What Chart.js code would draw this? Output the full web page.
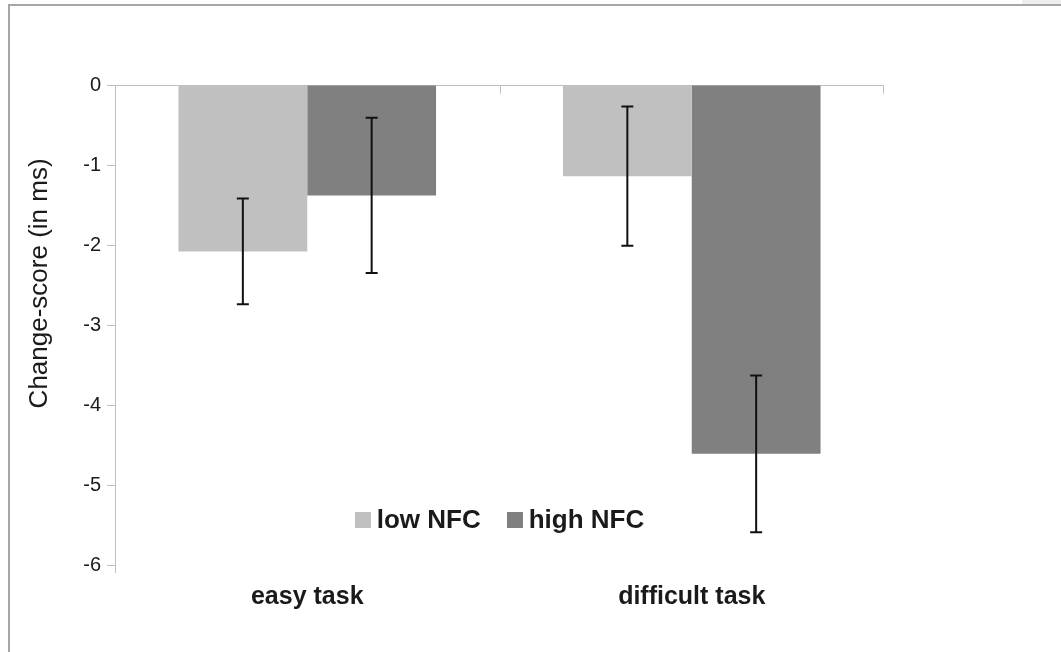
<!DOCTYPE html>
<html lang="en">
<head>
    <meta charset="UTF-8">
    <title>Change-score by task difficulty and NFC</title>
    <script src="https://cdn.jsdelivr.net/npm/chart.js"></script>
    <style>
        body, html {
            margin: 0;
            padding: 0;
            width: 1061px;
            height: 652px;
            overflow: hidden;
            background: #fff;
            font-family: "Liberation Sans", Arial, sans-serif;
        }
        #wrap { position: relative; width: 1061px; height: 652px; }
        #frame {
            position: absolute; left: 8px; top: 4px; width: 1100px; height: 700px;
            border-left: 2px solid #a6a6a6; border-top: 2px solid #a6a6a6;
            pointer-events: none;
        }
        #corner {
            position: absolute; left: 1022px; top: 0; width: 39px; height: 4px;
            background: #eeeeee;
        }
    </style>
</head>
<body>
<div id="wrap">
    <canvas id="barChart"></canvas>
    <div id="frame"></div>
    <div id="corner"></div>
</div>
<script>
    const categories = ['easy task', 'difficult task'];
    const seriesNames = ['low NFC', 'high NFC'];
    const lowNFC = [-2.08, -1.14];
    const highNFC = [-1.38, -4.61];
    const lowNFCErr = [0.66, 0.87];
    const highNFCErr = [0.97, 0.98];
    const yTicks = [0, -1, -2, -3, -4, -5, -6];
    const yTitle = 'Change-score (in ms)';

    const FONT = '"Liberation Sans", Arial, sans-serif';
    const AXIS_GREY = '#bfbfbf';
    const TEXT = '#1a1a1a';

    // error bars, drawn on top of the bars at each bar's centre
    const errorBars = {
        id: 'errorBars',
        afterDatasetsDraw(chart) {
            const ctx = chart.ctx;
            const y = chart.scales.y;
            const errs = [lowNFCErr, highNFCErr];
            ctx.save();
            ctx.strokeStyle = '#111';
            ctx.lineWidth = 2;
            chart.data.datasets.forEach((ds, di) => {
                chart.getDatasetMeta(di).data.forEach((bar, i) => {
                    const v = ds.data[i], e = errs[di][i];
                    const yTop = y.getPixelForValue(v + e);
                    const yBot = y.getPixelForValue(v - e);
                    ctx.beginPath();
                    ctx.moveTo(bar.x, yTop); ctx.lineTo(bar.x, yBot);
                    ctx.moveTo(bar.x - 6, yTop); ctx.lineTo(bar.x + 6, yTop);
                    ctx.moveTo(bar.x - 6, yBot); ctx.lineTo(bar.x + 6, yBot);
                    ctx.stroke();
                });
            });
            ctx.restore();
        }
    };

    // category axis sits on the zero line: small tick marks between categories
    const zeroAxisTicks = {
        id: 'zeroAxisTicks',
        afterDraw(chart) {
            const ctx = chart.ctx;
            const x = chart.scales.x;
            const area = chart.chartArea;
            const y0 = Math.round(chart.scales.y.getPixelForValue(0)) + 0.5;
            ctx.save();
            ctx.strokeStyle = AXIS_GREY;
            ctx.lineWidth = 1;
            for (let i = 1; i <= categories.length; i++) {
                const px = Math.round((x.getPixelForValue(i - 1) + x.getPixelForValue(i)) / 2) + 0.5;
                const edge = i === categories.length ? Math.round(area.right) - 0.5 : px;
                ctx.beginPath();
                ctx.moveTo(edge, y0); ctx.lineTo(edge, y0 + 8);
                ctx.stroke();
            }
            // value axis runs a little past its last tick
            const ax = Math.round(area.left) + 0.5;
            ctx.beginPath();
            ctx.moveTo(ax, area.bottom); ctx.lineTo(ax, area.bottom + 8);
            ctx.stroke();
            ctx.restore();
        }
    };

    // axis title, sitting a bit above the middle of the value axis
    const axisTitle = {
        id: 'axisTitle',
        afterDraw(chart) {
            const ctx = chart.ctx;
            const yc = chart.scales.y.getPixelForValue(-2.48);
            ctx.save();
            ctx.translate(40, yc);
            ctx.rotate(-Math.PI / 2);
            ctx.font = '26px ' + FONT;
            ctx.fillStyle = TEXT;
            ctx.textAlign = 'center';
            ctx.textBaseline = 'middle';
            ctx.fillText(yTitle, 0, 0);
            ctx.restore();
        }
    };

    // legend drawn inside the plot, just above the category labels
    const innerLegend = {
        id: 'innerLegend',
        afterDraw(chart) {
            const ctx = chart.ctx;
            const area = chart.chartArea;
            const box = 16, gapText = 6, gapItem = 26;
            ctx.save();
            ctx.font = 'bold 26px ' + FONT;
            ctx.textBaseline = 'middle';
            const items = chart.data.datasets.map(ds => ({
                text: ds.label, color: ds.backgroundColor, w: ctx.measureText(ds.label).width
            }));
            const total = items.reduce((s, it) => s + box + gapText + it.w, 0) + gapItem * (items.length - 1);
            let x = (area.left + area.right) / 2 - total / 2;
            const yc = chart.scales.y.getPixelForValue(-5.44);
            items.forEach(it => {
                ctx.fillStyle = it.color;
                ctx.fillRect(Math.round(x), Math.round(yc - box / 2), box, box);
                x += box + gapText;
                ctx.fillStyle = TEXT;
                ctx.fillText(it.text, x, yc + 1);
                x += it.w + gapItem;
            });
            ctx.restore();
        }
    };

    new Chart(document.getElementById('barChart'), {
        type: 'bar',
        data: {
            labels: categories,
            datasets: [
                { label: seriesNames[0], data: lowNFC, backgroundColor: '#c0c0c0' },
                { label: seriesNames[1], data: highNFC, backgroundColor: '#808080' }
            ]
        },
        options: {
            responsive: true,
            maintainAspectRatio: false,
            animation: false,
            layout: { padding: { left: 0, top: 85, right: 177, bottom: 0 } },
            datasets: { bar: { categoryPercentage: 0.67, barPercentage: 1.0, borderWidth: 0 } },
            plugins: {
                legend: { display: false },
                tooltip: { enabled: false }
            },
            scales: {
                x: {
                    grid: { display: false },
                    border: { display: false },
                    ticks: {
                        padding: 9,
                        color: TEXT,
                        font: { family: FONT, size: 25, weight: 'bold' }
                    },
                    afterFit(scale) { scale.height = 87; }
                },
                y: {
                    min: -6,
                    max: 0,
                    afterBuildTicks(scale) { scale.ticks = yTicks.map(v => ({ value: v })); },
                    grid: {
                        drawTicks: true,
                        tickLength: 8,
                        tickColor: AXIS_GREY,
                        color: ctx => (ctx.tick && ctx.tick.value === 0) ? AXIS_GREY : 'rgba(0,0,0,0)'
                    },
                    border: { display: true, color: AXIS_GREY, width: 1 },
                    ticks: {
                        padding: 6,
                        color: TEXT,
                        font: { family: FONT, size: 20 }
                    },
                    title: { display: false },
                    afterFit(scale) { scale.width = 115; }
                }
            }
        },
        plugins: [errorBars, zeroAxisTicks, axisTitle, innerLegend]
    });
</script>
</body>
</html>
